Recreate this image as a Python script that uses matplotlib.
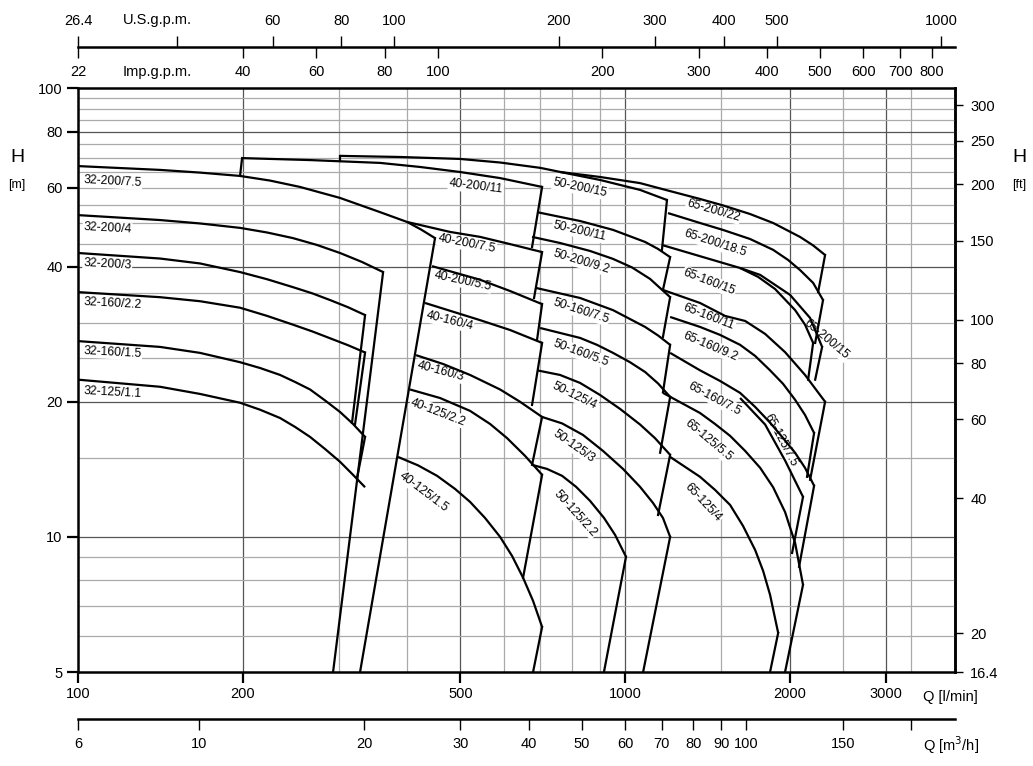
import matplotlib
matplotlib.use("Agg")
import matplotlib.pyplot as plt
from matplotlib.ticker import NullLocator

# flow limits of the chart [l/min] and head limits [m]
q_min, q_max = 100, 4010
h_min, h_max = 5, 100

# curves: (label, Q [l/min], H [m])
curves_32 = [
    ("32-200/7.5", [100, 141.2, 167.1, 197.8, 224.4, 254.6, 301.3, 356.6, 399.6, 423.6, 449.4],
     [67.0, 65.7, 64.8, 63.7, 62.2, 60.2, 56.9, 52.9, 50.3, 48.4, 46.3]),
    ("32-200/4", [100, 141.2, 167.1, 197.8, 221.6, 247.2, 273.5, 301.3, 330.5, 361.2],
     [52.1, 50.8, 49.92, 48.8, 47.66, 46.3, 44.7, 42.9, 40.97, 38.9]),
    ("32-200/3", [100, 141.2, 167.1, 197.8, 221.6, 247.2, 267.9, 288.9, 311.6, 334.8],
     [42.9, 41.7, 40.66, 38.9, 37.5, 36.0, 34.89, 33.7, 32.48, 31.2]),
    ("32-160/2.2", [100, 141.2, 167.1, 197.8, 221.6, 247.2, 267.9, 288.9, 311.6, 334.8],
     [35.1, 34.2, 33.5, 32.4, 31.07, 29.7, 28.7, 27.7, 26.73, 25.75]),
    ("32-160/1.5", [100, 141.2, 167.1, 197.8, 215.2, 234.1, 249.3, 265.6, 282.8, 301.3, 318.2, 334.8],
     [27.3, 26.5, 25.7, 24.5, 23.78, 22.95, 22.14, 21.3, 20.14, 18.98, 17.85, 16.7]),
    ("32-125/1.1", [100, 141.2, 167.1, 197.8, 215.2, 234.1, 249.3, 265.6, 282.8, 301.3, 318.2, 334.8],
     [22.4, 21.6, 20.82, 19.9, 19.2, 18.4, 17.58, 16.7, 15.7, 14.7, 13.75, 12.9]),
]
curves_40 = [
    ("40-200/11", [199.5, 265.6, 356.6, 421.9, 499.3, 591, 705.3], [69.8, 69.1, 68.1, 66.7, 65.0, 63.0, 60.2]),
    ("40-200/7.5", [399.6, 478.6, 543.1, 616.3, 705.3], [50.3, 47.8, 46.6, 44.9, 43.1]),
    ("40-200/5.5", [443.8, 543.1, 616.3, 705.3], [40.1, 37.4, 35.3, 33.0]),
    ("40-160/4", [430.9, 543.1, 616.3, 705.3], [33.2, 30.4, 28.9, 27.05]),
    ("40-160/3", [414.9, 464.8, 520.7, 591, 642.7, 705.3], [25.4, 24.28, 22.95, 21.3, 20.0, 18.5]),
    ("40-125/2.2", [404.6, 458.9, 520.7, 566.5, 608.5, 656.5, 705.3], [21.3, 20.39, 19.09, 17.85, 16.6, 15.15, 13.75]),
    ("40-125/1.5", [384.6, 418.5, 453.2, 488.9, 520.7, 554.7, 591, 621.5, 651, 679, 705.3],
     [15.07, 14.43, 13.68, 12.79, 11.97, 11.02, 10.0, 9.07, 8.11, 7.2, 6.30]),
]
curves_50 = [
    ("50-200/15", [301.3, 387.9, 499.3, 591, 699.5, 793.3, 900, 1065, 1193],
     [70.6, 70.2, 69.5, 68.24, 66.4, 64.35, 62.4, 59.3, 56.3]),
    ("50-200/11", [690.5, 827.4, 950.6, 1088, 1149, 1209], [52.9, 50.55, 48.3, 45.4, 43.8, 42.0]),
    ("50-200/9.2", [676.1, 760.5, 863, 950.6, 1030, 1111, 1209], [46.6, 45.16, 43.35, 41.62, 39.83, 37.56, 34.2]),
    ("50-160/7.5", [684.7, 827.4, 950.6, 1088, 1149, 1209], [35.9, 34.06, 32.0, 29.36, 28.1, 26.78]),
    ("50-160/5.5", [699.5, 827.4, 888.7, 950.6, 1021, 1088, 1149, 1209], [29.2, 27.75, 26.78, 25.7, 24.5, 23.3, 21.97, 20.5]),
    ("50-125/4", [690.5, 760.5, 827.4, 900, 979.2, 1065, 1134, 1209], [23.5, 22.95, 22.03, 20.71, 19.28, 17.8, 16.6, 15.23]),
    ("50-125/3", [705.3, 767.1, 837.8, 911.5, 991.6, 1065, 1125, 1173, 1209],
     [18.5, 17.9, 16.87, 15.54, 14.17, 12.93, 11.9, 11.02, 10.0]),
    ("50-125/2.2", [676.1, 720.2, 767.1, 813.6, 863, 915.3, 959, 1004],
     [14.47, 14.17, 13.68, 12.93, 12.03, 11.02, 10.1, 9.03]),
]
curves_65 = [
    ("65-200/22", [760.5, 900, 1065, 1198, 1371, 1511, 1692, 1865, 2089, 2207, 2321],
     [65.0, 63.36, 61.4, 59.1, 56.6, 54.75, 52.4, 50.04, 46.58, 44.6, 42.46]),
    ("65-200/18.5", [1198, 1371, 1511, 1692, 1865, 1986, 2089, 2207, 2301],
     [52.65, 50.04, 48.28, 46.1, 43.6, 41.4, 39.3, 36.8, 33.7]),
    ("65-160/15", [1168, 1371, 1623, 1751, 1880, 2046, 2133, 2207], [44.7, 42.2, 39.72, 37.95, 35.67, 32.0, 29.7, 27.05]),
    ("65-200/15", [1623, 1766, 2003, 2179, 2292], [39.72, 38.34, 34.6, 30.74, 26.5]),
    ("65-160/11", [1173, 1371, 1523, 1658, 1803, 1961, 2133, 2321], [35.49, 33.2, 31.07, 30.27, 28.33, 25.8, 22.95, 20.0]),
    ("65-160/9.2", [1209, 1371, 1492, 1623, 1729, 1841, 1945, 2046, 2133, 2216],
     [30.9, 29.36, 28.18, 26.78, 25.3, 23.5, 21.92, 20.2, 18.69, 17.04]),
    ("65-160/7.5", [1209, 1371, 1492, 1623, 1729, 1841, 1945, 2046, 2133, 2216],
     [25.7, 23.5, 22.25, 20.93, 19.48, 17.97, 16.6, 15.39, 14.25, 13.0]),
    ("65-125/7.5", [1623, 1803, 1961, 2115], [20.39, 17.8, 14.8, 12.28]),
    ("65-125/5.5", [1173, 1371, 1460, 1556, 1658, 1766, 1865, 1961, 2046, 2115],
     [20.93, 18.88, 17.85, 16.79, 15.54, 14.25, 12.9, 11.36, 9.69, 7.82]),
    ("65-125/4", [1209, 1371, 1460, 1556, 1643, 1729, 1788, 1841, 1905],
     [15.07, 13.61, 12.73, 11.78, 10.58, 9.35, 8.4, 7.43, 6.11]),
]

# range limit lines joining the curve ends: ([Q1, Q2], [H1, H2])
limits = [
    ([361.2, 292.6], [38.9, 5.0]),
    ([334.8, 316.9], [31.2, 17.97]),
    ([334.8, 320.9], [25.75, 17.8]),
    ([334.8, 323.6], [16.7, 13.5]),
    ([449.4, 327.8], [46.3, 5.0]),
    ([199.5, 197.8], [69.8, 63.7]),
    ([301.3, 301.3], [70.6, 68.8]),
    ([705.3, 676.1], [60.2, 44.23]),
    ([705.3, 681.8], [43.1, 34.06]),
    ([705.3, 690.5], [33.03, 27.5]),
    ([705.3, 676.1], [27.05, 19.68]),
    ([705.3, 676.1], [18.5, 14.47]),
    ([705.3, 651], [13.75, 8.11]),
    ([705.3, 679], [6.30, 5.0]),
    ([1193, 1168], [56.3, 43.6]),
    ([1209, 1173], [42.0, 35.5]),
    ([1209, 1173], [34.2, 27.9]),
    ([1209, 1173], [26.78, 21.0]),
    ([1209, 1159], [20.5, 15.4]),
    ([1209, 1149], [15.23, 11.19]),
    ([1209, 1079], [10.0, 5.0]),
    ([1004, 915], [9.03, 5.0]),
    ([2321, 2254], [42.46, 35.1]),
    ([2301, 2226], [33.7, 27.05]),
    ([2207, 2161], [27.05, 22.4]),
    ([2292, 2226], [26.5, 22.4]),
    ([2321, 2179], [20.0, 13.4]),
    ([2216, 2151], [17.04, 13.61]),
    ([2216, 2080], [13.0, 8.58]),
    ([2115, 2020], [12.28, 9.21]),
    ([2115, 1961], [7.82, 5.0]),
    ([1905, 1841], [6.11, 5.0]),
]

# label anchor (Q, H) and rotation for every curve label
label_pos = {
    "32-200/7.5": (102.3, 62.4, -3), "32-200/4": (102.3, 48.9, -3), "32-200/3": (102.3, 40.8, -3),
    "32-160/2.2": (102.3, 33.3, -3), "32-160/1.5": (102.3, 26.0, -3), "32-125/1.1": (102.6, 21.15, -3),
    "40-200/11": (476.7, 61.4, -7), "40-200/7.5": (455, 46.3, -11), "40-200/5.5": (447.5, 38.34, -12),
    "40-160/4": (432.7, 31.2, -14), "40-160/3": (416.7, 24.15, -15), "40-125/2.2": (406.3, 20.0, -21),
    "40-125/1.5": (389.5, 13.75, -37),
    "50-200/15": (738.8, 61.7, -12), "50-200/11": (738.8, 49.53, -13), "50-200/9.2": (738.8, 42.9, -17),
    "50-160/7.5": (738.8, 33.37, -18), "50-160/5.5": (738.8, 27.05, -20), "50-125/4": (738.8, 21.8, -26),
    "50-125/3": (741.9, 17.1, -35), "50-125/2.2": (748.2, 12.6, -48),
    "65-200/22": (1298, 55.45, -16), "65-200/18.5": (1281, 47.54, -18), "65-160/15": (1281, 38.9, -21),
    "65-160/11": (1281, 32.53, -21), "65-160/9.2": (1281, 28.18, -23), "65-160/7.5": (1309, 21.8, -28),
    "65-125/5.5": (1292, 18.05, -40), "65-125/4": (1298, 13.06, -47),
    "65-200/15": (2133, 30.1, -40), "65-125/7.5": (1818, 18.69, -62),
}

# grid
q_grid_dark = [200, 500, 1000, 2000, 3000]
q_grid_light = [300, 400, 600, 700, 800, 900, 1500, 2500, 3333]
h_grid_dark = [10, 20, 40, 80]
h_grid_light = [6, 7, 8, 9, 15, 25, 30, 35, 45, 50, 55, 60, 65, 70, 75, 85, 90, 95]

# axis ticks
q_ticks = [100, 200, 500, 1000, 2000, 3000]
h_ticks = [5, 10, 20, 40, 60, 80, 100]
ft_ticks = [16.4, 20, 40, 60, 80, 100, 150, 200, 250, 300]
m3h_ticks = [6, 10, 20, 30, 40, 50, 60, 70, 80, 90, 100, 150, 200]
m3h_labels = ["6", "10", "20", "30", "40", "50", "60", "70", "80", "90", "100", "150", ""]
usgpm_ticks = [26.42, 40, 60, 80, 100, 200, 300, 400, 500, 1000]
usgpm_labels = ["26.4", "", "60", "80", "100", "200", "300", "400", "500", "1000"]
impgpm_ticks = [22.0, 44, 60, 80, 100, 200, 300, 400, 500, 600, 700, 800]
impgpm_labels = ["22", "40", "60", "80", "100", "200", "300", "400", "500", "600", "700", "800"]

TICKFONT = ["Liberation Sans Narrow", "Liberation Sans", "DejaVu Sans"]
TFS = 10.5
plt.rcParams["font.family"] = ["Liberation Sans", "DejaVu Sans"]

fig = plt.figure(figsize=(10.33, 7.66), dpi=100)
L, W = 0.0755, 0.849
ax = fig.add_axes([L, 0.1227, W, 0.7624])
ax.set_xscale("log")
ax.set_yscale("log")
ax.set_xlim(q_min, q_max)
ax.set_ylim(h_min, h_max)

for q in q_grid_dark:
    ax.axvline(q, color="#555555", lw=0.9, zorder=0.5)
for q in q_grid_light:
    ax.axvline(q, color="#aaaaaa", lw=0.9, zorder=0.5)
for h in h_grid_dark:
    ax.axhline(h, color="#555555", lw=0.9, zorder=0.5)
for h in h_grid_light:
    ax.axhline(h, color="#aaaaaa", lw=0.9, zorder=0.5)

for group in (curves_32, curves_40, curves_50, curves_65):
    for name, q, h in group:
        ax.plot(q, h, color="black", lw=1.6, zorder=3, solid_capstyle="butt", solid_joinstyle="round")
        lq, lh, rot = label_pos[name]
        ax.text(lq, lh, name, fontsize=8.8, rotation=rot, rotation_mode="anchor",
                ha="left", va="center", zorder=2,
                bbox=dict(facecolor="white", edgecolor="none", pad=0.6))
for q, h in limits:
    ax.plot(q, h, color="black", lw=1.6, zorder=3)

for s in ax.spines.values():
    s.set_linewidth(1.8)

ax.set_xticks(q_ticks)
ax.set_xticklabels([str(v) for v in q_ticks], family=TICKFONT, fontsize=TFS)
ax.xaxis.set_minor_locator(NullLocator())
ax.set_yticks(h_ticks)
ax.set_yticklabels([str(v) for v in h_ticks], family=TICKFONT, fontsize=TFS)
ax.yaxis.set_minor_locator(NullLocator())
ax.tick_params(axis="both", which="major", direction="out", length=8, width=1.6, pad=3)

sec = ax.secondary_yaxis("right", functions=(lambda m: m * 3.28, lambda f: f / 3.28))
sec.set_yticks(ft_ticks)
sec.set_yticklabels([str(v) for v in ft_ticks], family=TICKFONT, fontsize=TFS)
sec.yaxis.set_minor_locator(NullLocator())
sec.tick_params(axis="y", direction="out", length=6, width=1.0, pad=5)
sec.spines["right"].set_linewidth(1.8)

# m3/h scale under the chart
axm = fig.add_axes([L, 0.0614, W, 0.0001])
axm.set_xscale("log")
axm.set_xlim(q_min * 0.06, q_max * 0.06)
axm.set_yticks([])
for k in ("top", "left", "right"):
    axm.spines[k].set_visible(False)
axm.spines["bottom"].set_linewidth(1.8)
axm.set_xticks(m3h_ticks)
axm.set_xticklabels(m3h_labels, family=TICKFONT, fontsize=TFS)
axm.xaxis.set_minor_locator(NullLocator())
axm.tick_params(axis="x", direction="out", length=8, width=1.0, pad=5)

# gallon scales above the chart
axu = fig.add_axes([L, 0.9386, W, 0.0001])
axu.set_xscale("log")
axu.set_xlim(q_min / 3.785, q_max / 3.785)
axu.set_yticks([])
for k in ("bottom", "left", "right"):
    axu.spines[k].set_visible(False)
axu.spines["top"].set_linewidth(1.8)
axu.xaxis.set_ticks_position("top")
axu.set_xticks(usgpm_ticks)
axu.set_xticklabels(usgpm_labels, family=TICKFONT, fontsize=TFS)
axu.xaxis.set_minor_locator(NullLocator())
axu.tick_params(axis="x", direction="out", length=8, width=1.0, pad=6)

axi = fig.add_axes([L, 0.9386, W, 0.0001])
axi.set_xscale("log")
axi.set_xlim(q_min / 4.546, q_max / 4.546)
axi.set_yticks([])
for s in axi.spines.values():
    s.set_visible(False)
axi.patch.set_visible(False)
axi.set_xticks(impgpm_ticks)
axi.set_xticklabels(impgpm_labels, family=TICKFONT, fontsize=TFS)
axi.xaxis.set_minor_locator(NullLocator())
axi.tick_params(axis="x", direction="out", length=8, width=1.0, pad=5)

fig.text(0.119, 0.974, "U.S.g.p.m.", family=TICKFONT, fontsize=TFS, va="center")
fig.text(0.119, 0.906, "Imp.g.p.m.", family=TICKFONT, fontsize=TFS, va="center")
fig.text(0.8935, 0.09, "Q [l/min]", family=TICKFONT, fontsize=TFS, va="center")
fig.text(0.8935, 0.0274, "Q [m$^3$/h]", family=TICKFONT, fontsize=TFS, va="center")
fig.text(0.0165, 0.795, "H", fontsize=14, ha="center", va="center")
fig.text(0.0165, 0.758, "[m]", fontsize=9, ha="center", va="center")
fig.text(0.987, 0.795, "H", fontsize=14, ha="center", va="center")
fig.text(0.987, 0.758, "[ft]", fontsize=9, ha="center", va="center")

fig.savefig("out.png", dpi=100)
